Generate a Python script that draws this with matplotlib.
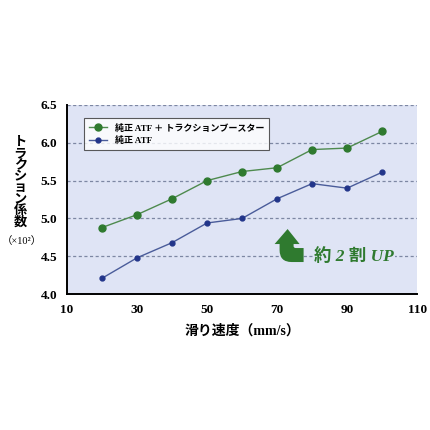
import matplotlib.pyplot as plt
from matplotlib.path import Path
from matplotlib.patches import PathPatch
from matplotlib import transforms

plt.rcParams['font.family'] = ['Liberation Serif', 'Noto Sans CJK JP', 'DejaVu Sans']

speed = [20, 30, 40, 50, 60, 70, 80, 90, 100]
booster = [4.88, 5.05, 5.26, 5.50, 5.62, 5.67, 5.91, 5.93, 6.15]
pure_atf = [4.21, 4.48, 4.68, 4.94, 5.00, 5.26, 5.46, 5.40, 5.61]

label_booster = '純正 ATF ＋ トラクションブースター'
label_atf = '純正 ATF'
ylabel_chars = 'トラクション係数'

green = '#2f7a2f'
blue = '#22358a'

fig = plt.figure(figsize=(4.3, 4.3), dpi=100)
ax = fig.add_axes([0.156, 0.316, 0.814, 0.44])
ax.set_facecolor('#dfe4f5')

ax.plot(speed, booster, color='#4e8a4e', lw=1.0, marker='o', ms=5,
        mfc=green, mec=green, label=label_booster, zorder=3)
ax.plot(speed, pure_atf, color='#4a5c9a', lw=1.0, marker='o', ms=3.5,
        mfc=blue, mec=blue, label=label_atf, zorder=3)

ax.set_xlim(10, 110)
ax.set_ylim(4.0, 6.5)
ax.set_xticks([10, 30, 50, 70, 90, 110])
ax.set_yticks([4.0, 4.5, 5.0, 5.5, 6.0, 6.5])
ax.set_yticklabels(['4.0', '4.5', '5.0', '5.5', '6.0', '6.5'])
ax.tick_params(length=0, labelsize=9.5, pad=7)
for t in ax.get_xticklabels() + ax.get_yticklabels():
    t.set_fontweight('bold')

for v in [4.5, 5.0, 5.5, 6.0, 6.5]:
    ax.axhline(v, color='#7d87a3', lw=0.9, ls=(0, (2.5, 2)), zorder=1)

for s in ['top', 'right']:
    ax.spines[s].set_visible(False)
ax.spines['left'].set_linewidth(1.4)
ax.spines['bottom'].set_linewidth(1.4)

ax.set_xlabel('滑り速度（mm/s）', fontsize=10, fontweight='bold', labelpad=6)

# vertical stacked y label
fig.text(0.047, 0.575, '\n'.join(ylabel_chars), fontsize=9.5, fontweight='bold',
         ha='center', va='center', linespacing=0.92)
fig.text(0.05, 0.44, '（×10²）', fontsize=7.5, ha='center', va='center')

leg = ax.legend(loc='upper left', bbox_to_anchor=(0.035, 0.955), fontsize=6.5,
                frameon=True, fancybox=False, edgecolor='#333333',
                handlelength=2.0, borderpad=0.6, labelspacing=0.35)
leg.get_frame().set_linewidth(0.8)
for t in leg.get_texts():
    t.set_fontweight('bold')

# bent "up" arrow, shape in pixels relative to its tip
verts = [(0, 0), (12, -15), (6, -15), (6, -17), (6, -19), (8, -19),
         (16, -19), (16, -33), (4, -33), (-8, -33), (-8, -21),
         (-8, -15), (-13, -15), (0, 0)]
codes = [Path.MOVETO, Path.LINETO, Path.LINETO, Path.LINETO, Path.CURVE3, Path.CURVE3,
         Path.LINETO, Path.LINETO, Path.LINETO, Path.CURVE3, Path.CURVE3,
         Path.LINETO, Path.LINETO, Path.CLOSEPOLY]
tip = transforms.ScaledTranslation(73.0, 4.86, ax.transData)
arrow_trans = transforms.Affine2D().scale(fig.dpi / 100) + tip
ax.add_patch(PathPatch(Path(verts, codes), facecolor=green, edgecolor='none',
                       transform=arrow_trans, zorder=4))

ax.text(80.6, 4.5, '約 2 割 UP', fontsize=12.5, fontweight='bold', style='italic',
        color=green, va='center', ha='left', zorder=4,
        bbox=dict(facecolor='#dfe4f5', edgecolor='none', pad=1))

fig.savefig('out.png', dpi=100)
